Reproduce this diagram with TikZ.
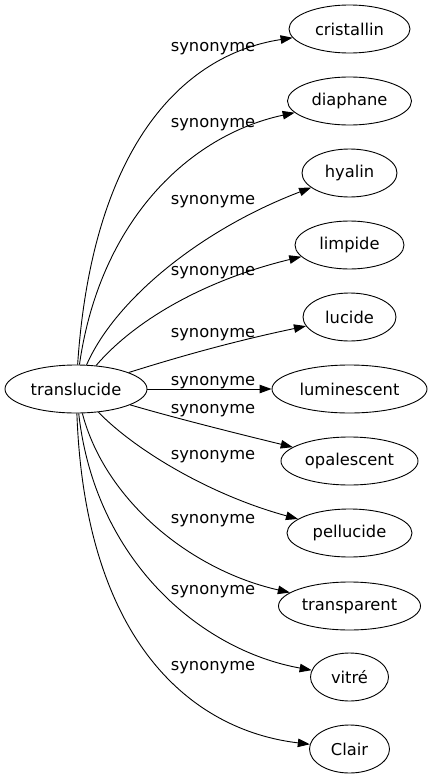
\documentclass[tikz,border=0pt]{standalone}
\usepackage{fontspec}
\setmainfont{DejaVu Sans}
\usetikzlibrary{arrows.meta,shapes.geometric}
\begin{document}
\begin{tikzpicture}[x=1pt,y=-1pt,
  every node/.style={font=\fontsize{16.3}{19}\selectfont},
  term/.style={draw,ellipse,inner sep=0pt,minimum height=48pt,line width=0.9pt},
  syn/.style={-{Triangle[length=12pt,width=8.5pt]},line width=0.9pt},
  lbl/.style={anchor=base}]
\useasboundingbox (0,0) rectangle (432,779);
\node[term,minimum width=142pt] (transl) at (76,389) {translucide};
\node[term,minimum width=121pt] (cristallin) at (349.5,29) {cristallin};
\node[term,minimum width=124pt] (diaphane) at (349.5,101) {diaphane};
\node[term,minimum width=95pt] (hyalin) at (349.5,173) {hyalin};
\node[term,minimum width=109pt] (limpide) at (349.5,245) {limpide};
\node[term,minimum width=93pt] (lucide) at (349.5,317) {lucide};
\node[term,minimum width=155pt] (luminescent) at (349.5,389) {luminescent};
\node[term,minimum width=137pt] (opalescent) at (349.5,461) {opalescent};
\node[term,minimum width=125pt] (pellucide) at (349.5,533) {pellucide};
\node[term,minimum width=142pt] (transparent) at (349.5,606) {transparent};
\node[term,minimum width=78pt] (vitre) at (349.5,677) {vitré};
\node[term,minimum width=80pt] (clair) at (349.5,749) {Clair};
\draw[syn] (transl) .. controls (92,150) and (180,55) .. (cristallin);
\draw[syn] (transl) .. controls (100,220) and (190,135) .. (diaphane);
\draw[syn] (transl) .. controls (115,300) and (200,230) .. (hyalin);
\draw[syn] (transl) .. controls (135,320) and (205,280) .. (limpide);
\draw[syn] (transl) .. controls (175,358) and (230,342) .. (lucide);
\draw[syn] (transl) -- (luminescent);
\draw[syn] (transl) .. controls (175,418) and (235,433) .. (opalescent);
\draw[syn] (transl) .. controls (135,450) and (210,495) .. (pellucide);
\draw[syn] (transl) .. controls (105,500) and (190,570) .. (transparent);
\draw[syn] (transl) .. controls (95,560) and (200,650) .. (vitre);
\draw[syn] (transl) .. controls (85,640) and (190,730) .. (clair);
\node[lbl] (s1) at (213,51) {synonyme};
\node[lbl] (s2) at (213,127) {synonyme};
\node[lbl] (s3) at (213,204) {synonyme};
\node[lbl] (s4) at (213,275) {synonyme};
\node[lbl] (s5) at (213,337) {synonyme};
\node[lbl] (s6) at (213,385) {synonyme};
\node[lbl] (s7) at (213,413) {synonyme};
\node[lbl] (s8) at (213,459) {synonyme};
\node[lbl] (s9) at (213,523) {synonyme};
\node[lbl] (s10) at (213,594) {synonyme};
\node[lbl] (s11) at (213,670) {synonyme};
\end{tikzpicture}
\end{document}
